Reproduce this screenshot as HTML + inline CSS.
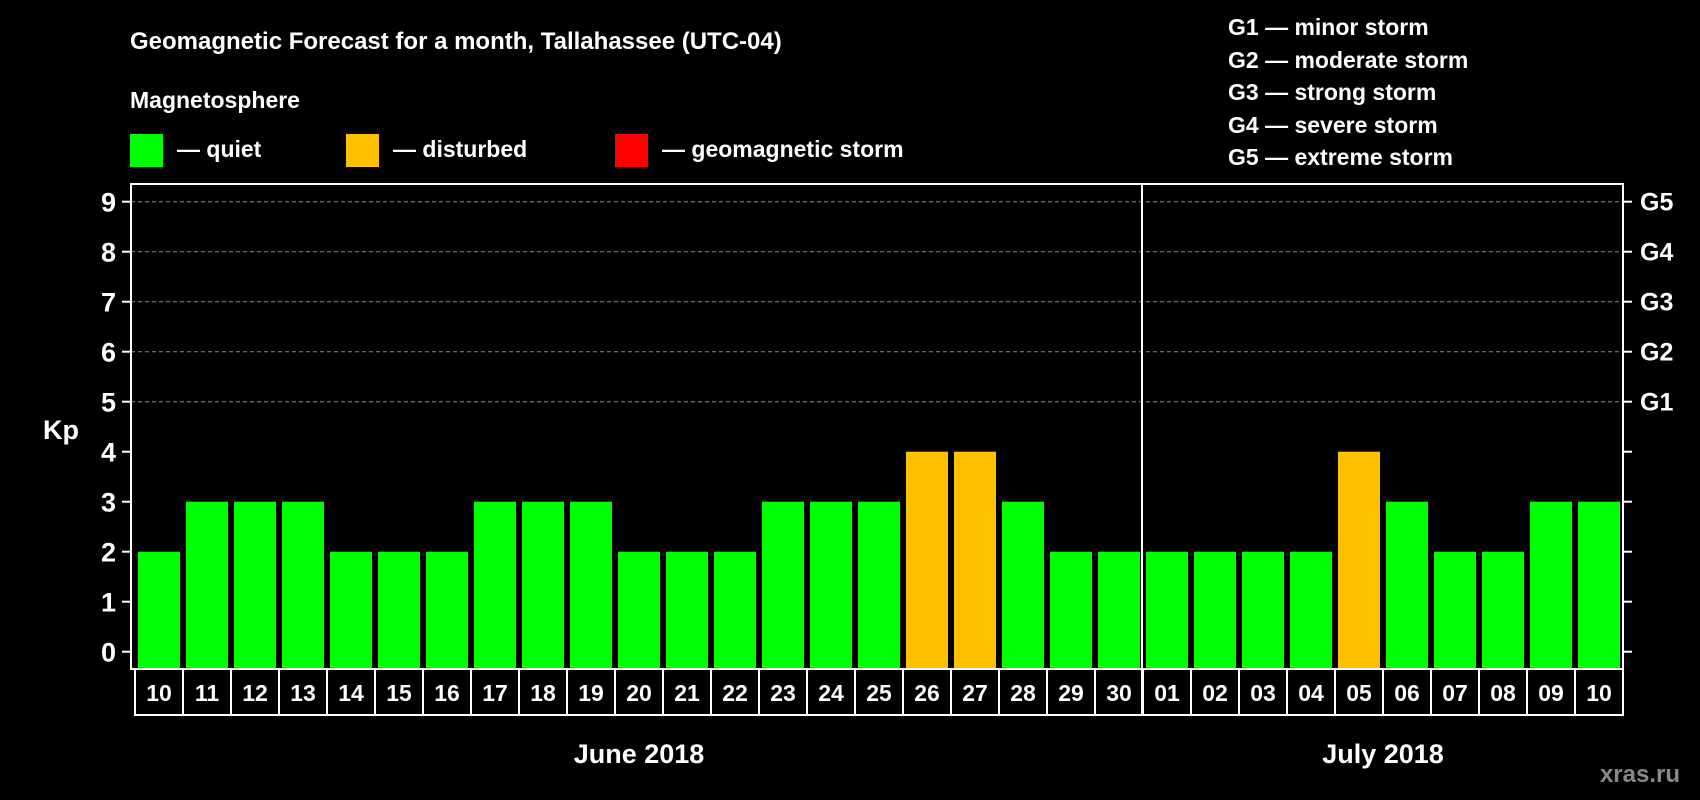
<!DOCTYPE html>
<html><head><meta charset="utf-8"><style>
body{margin:0;background:#000;width:1700px;height:800px;overflow:hidden}
svg{display:block;font-family:"Liberation Sans",Arial,sans-serif;font-weight:bold}
</style></head><body>
<svg id="chart" width="1700" height="800" viewBox="0 0 1700 800">
<rect width="1700" height="800" fill="#000"/>
<text x="130" y="49" fill="#fff" font-size="24">Geomagnetic Forecast for a month, Tallahassee (UTC-04)</text>
<text x="130" y="108" fill="#fff" font-size="23">Magnetosphere</text>
<rect x="130" y="134" width="33" height="33" fill="#00ff00"/>
<text x="177" y="157" fill="#fff" font-size="23">— quiet</text>
<rect x="346" y="134" width="33" height="33" fill="#ffc000"/>
<text x="393" y="157" fill="#fff" font-size="23">— disturbed</text>
<rect x="615" y="134" width="33" height="33" fill="#ff0000"/>
<text x="662" y="157" fill="#fff" font-size="23">— geomagnetic storm</text>
<g fill="#fff" font-size="23">
<text x="1228" y="35">G1 — minor storm</text>
<text x="1228" y="68">G2 — moderate storm</text>
<text x="1228" y="100">G3 — strong storm</text>
<text x="1228" y="133">G4 — severe storm</text>
<text x="1228" y="165">G5 — extreme storm</text>
</g>
<text x="43" y="439" fill="#fff" font-size="27">Kp</text>
<g id="grid"></g><g id="bars"></g><g id="axes"></g>
<text x="1680" y="782" fill="#888" font-size="24" text-anchor="end">xras.ru</text>
</svg>
<script>
const days=["10","11","12","13","14","15","16","17","18","19","20","21","22","23","24","25","26","27","28","29","30","01","02","03","04","05","06","07","08","09","10"];
const kp=[2,3,3,3,2,2,2,3,3,3,2,2,2,3,3,3,4,4,3,2,2,2,2,2,2,4,3,2,2,3,3];
const yTicks=[0,1,2,3,4,5,6,7,8,9];
const gLabels=["","","","","","G1","G2","G3","G4","G5"];
const months=[{name:"June 2018",from:0,to:20},{name:"July 2018",from:21,to:30}];
const NS="http://www.w3.org/2000/svg";
const L=131,R=1623,T=184,B=669,slot=48,x0=135;
const y=v=>651.7-v*50;
const x=i=>x0+i*slot;
function mk(p,tag,a){const e=document.createElementNS(NS,tag);for(const k in a)e.setAttribute(k,a[k]);p.appendChild(e);return e;}
const grid=document.getElementById('grid'),bars=document.getElementById('bars'),axes=document.getElementById('axes');
yTicks.forEach(v=>{
 if(v>=5){const g=mk(grid,'line',{x1:L,x2:R,y1:y(v),y2:y(v),stroke:'#888','stroke-dasharray':'4 3','stroke-width':1});
 
 }
 mk(axes,'line',{x1:L-9,x2:L,y1:y(v),y2:y(v),stroke:'#fff','stroke-width':2});
 mk(axes,'line',{x1:R,x2:R+9,y1:y(v),y2:y(v),stroke:'#fff','stroke-width':2});
 const t=mk(axes,'text',{x:116,y:y(v)+10,fill:'#fff','font-size':27,'text-anchor':'end'});t.textContent=v;
 
 
 if(gLabels[v]){const g=mk(axes,'text',{x:1640,y:y(v)+9,fill:'#fff','font-size':25});g.textContent=gLabels[v];
 
 }
});
kp.forEach((v,i)=>{
 const col=v>=5?'#ff0000':v>=4?'#ffc000':'#00ff00';
 const b=mk(bars,'rect',{x:x(i)+3,y:y(v),width:42,height:y(0)-y(v)+17,fill:col});
 
 
 mk(axes,'rect',{x:x(i),y:B,width:slot,height:46,fill:'none',stroke:'#fff','stroke-width':2});
 const t=mk(axes,'text',{x:x(i)+slot/2,y:B+32,fill:'#fff','font-size':23,'text-anchor':'middle'});t.textContent=days[i];
 
 
});
mk(axes,'rect',{x:L,y:T,width:R-L,height:B-T,fill:'none',stroke:'#fff','stroke-width':2});
mk(axes,'line',{x1:x(21)-1,x2:x(21)-1,y1:T,y2:B+46,stroke:'#fff','stroke-width':2});
months.forEach(m=>{
 const t=mk(axes,'text',{x:(x(m.from)+x(m.to+1))/2,y:763,fill:'#fff','font-size':27,'text-anchor':'middle'});t.textContent=m.name;
 
 
});
</script>
</body></html>
